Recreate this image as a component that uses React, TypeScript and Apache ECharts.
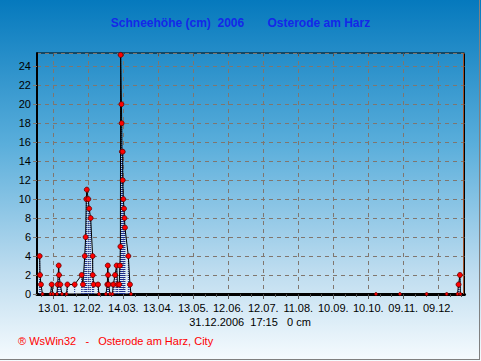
import React, { useEffect, useRef } from 'react';
import * as echarts from 'echarts';

const chartTitle = 'Schneehöhe (cm)  2006       Osterode am Harz';
const statusLine = '31.12.2006  17:15   0 cm';
const footerText = '® WsWin32   -   Osterode am Harz, City';

// x positions in "day units" of the axis (axis runs 0 .. 366.5)
const tickPositions = [14, 44, 74, 104, 134, 164, 194, 224, 254, 284, 314, 344];
const tickLabels = ['13.01.', '12.02.', '14.03.', '13.04.', '13.05.', '12.06.', '12.07.', '11.08.', '10.09.', '10.10.', '09.11.', '09.12.'];
const minorTickPositions = [4, 14, 24, 34, 44, 54, 64, 74, 84, 94, 104, 114, 124, 134, 144, 154, 164, 174, 184, 194, 204, 214, 224, 234, 244, 254, 264, 274, 284, 294, 304, 314, 324, 334, 344, 354, 364];
const nowMarker = 365;

const snowX = [
  2.3, 2.6, 3.4, 4.7,
  11.6, 12.6, 13.7,
  17.1, 17.7, 18.6, 18.9, 20.0, 21.4,
  25.3, 26.1, 32.3, 38.3, 39.4,
  40.9, 41.7, 42.3, 42.7, 44.0, 44.7, 46.0, 47.7, 47.8, 48.6,
  52.3, 53.1,
  59.1, 60.3, 60.7, 60.9, 61.4, 62.6,
  64.7, 65.4, 66.9, 68.3, 69.0, 70.5, 71.1, 71.5,
  71.7, 72.4, 72.6, 72.8, 73.5, 73.5, 74.0, 74.6, 75.0, 75.4, 78.3, 79.7, 80.6,
  290.6, 311.1, 334.0, 351.2,
  360.5, 361.4, 362.6, 363.0,
];
const snowCm = [
  4, 2, 1, 0,
  0, 1, 0,
  0, 1, 3, 2, 1, 0,
  0, 1, 1, 2, 1,
  4, 6, 10, 11, 10, 9, 8, 4, 2, 1,
  1, 0,
  0, 1, 3, 2, 1, 0,
  0, 1, 2, 3, 1, 1, 3, 5,
  25.2, 20, 18, 15, 15, 12, 10, 9, 8, 7, 4, 1, 0,
  0, 0, 0, 0,
  0, 1, 2, 0,
];

const yMax = 25.4;

export default function App() {
  const ref = useRef<HTMLDivElement>(null);
  useEffect(() => {
    document.body.style.margin = '0';
    if (!ref.current) return;
    const chart = echarts.init(ref.current, undefined, { renderer: 'svg' });
    const pairs = snowX.map((x, i) => [x, snowCm[i]]);
    const font = 'Arial, "Liberation Sans", sans-serif';
    const grid = '#80766e';
    chart.setOption({
      animation: false,
      backgroundColor: {
        type: 'linear', x: 0, y: 0, x2: 0, y2: 1,
        colorStops: [
          { offset: 0, color: '#0579bd' },
          { offset: 0.4, color: '#5aaedb' },
          { offset: 0.75, color: '#bddcef' },
          { offset: 1, color: '#f6fbfe' },
        ],
      },
      grid: { left: 37, right: 16.5, top: 53, bottom: 67, show: true, borderColor: '#000', borderWidth: 1 },
      xAxis: [
        {
          type: 'value', min: 0, max: 366.5,
          axisLine: { show: true, lineStyle: { color: '#000', width: 3 } },
          axisTick: { show: true, customValues: tickPositions, length: 5, lineStyle: { color: '#555' } },
          axisLabel: {
            customValues: tickPositions,
            formatter: (v: number) => tickLabels[tickPositions.indexOf(Math.round(v))] ?? '',
            color: '#000', fontSize: 11, fontFamily: font, margin: 8,
          },
          splitLine: { show: true, lineStyle: { color: grid, type: [4, 4], width: 1 } },
        },
        {
          type: 'value', min: 0, max: 366.5, position: 'bottom',
          axisLine: { show: false },
          axisTick: { show: true, customValues: minorTickPositions, length: 3, lineStyle: { color: '#555' } },
          axisLabel: { show: false },
          splitLine: { show: false },
        },
        {
          type: 'value', min: 0, max: 366.5, position: 'top',
          axisLine: { show: false },
          axisTick: { show: true, inside: true, customValues: tickPositions, length: 3, lineStyle: { color: '#555' } },
          axisLabel: { show: false },
          splitLine: { show: false },
        },
      ],
      yAxis: {
        type: 'value', min: 0, max: yMax, interval: 2,
        axisLine: { show: true, lineStyle: { color: '#000', width: 2 } },
        axisTick: { show: true, length: 4, lineStyle: { color: grid } },
        axisLabel: { color: '#000', fontSize: 11, fontFamily: font, margin: 6, showMaxLabel: false },
        splitLine: { show: true, lineStyle: { color: grid, type: [4, 4], width: 1 } },
      },
      graphic: [
        {
          type: 'text', left: 'center', top: 17,
          style: { text: chartTitle, fill: '#1428e8', font: `bold 12px ${font}` },
        },
        {
          type: 'text', x: 250, y: 322,
          style: { text: statusLine, fill: '#000', font: `11px ${font}`, align: 'center', verticalAlign: 'middle' },
        },
        {
          type: 'text', x: 18, y: 341,
          style: { text: footerText, fill: '#ff0000', font: `11px ${font}`, align: 'left', verticalAlign: 'middle' },
        },
        {
          type: 'line', shape: { x1: 0, y1: 359.5, x2: 480, y2: 359.5 },
          style: { stroke: '#808080', lineWidth: 1 },
        },
        {
          type: 'line', shape: { x1: 479.5, y1: 0, x2: 479.5, y2: 360 },
          style: { stroke: '#808080', lineWidth: 1 },
        },
      ],
      series: [
        {
          type: 'line', data: pairs, z: 1, symbol: 'none',
          lineStyle: { width: 0 },
          areaStyle: { color: 'rgba(255,255,255,0.6)' },
          markLine: {
            silent: true, symbol: 'none', label: { show: false },
            lineStyle: { color: '#a0522d', type: 'solid', width: 1 },
            data: [{ xAxis: nowMarker }],
          },
        },
        {
          type: 'custom', data: pairs, z: 2,
          encode: { x: 0, y: 1 },
          renderItem: (params: any, api: any) => {
            const x = api.value(0);
            const v = api.value(1);
            const p0 = api.coord([x, 0]);
            const p1 = api.coord([x, v]);
            return {
              type: 'line',
              shape: { x1: p0[0], y1: p0[1], x2: p1[0], y2: p1[1] },
              style: { stroke: '#1a2a8a', lineWidth: 1, lineDash: [1, 1] },
            };
          },
        },
        {
          type: 'line', data: pairs, z: 3,
          symbol: 'circle', showAllSymbol: true,
          symbolSize: (val: number[]) => (val[1] === 0 ? 3 : 5),
          itemStyle: { color: '#ff0000', borderColor: '#600000', borderWidth: 0.8 },
          lineStyle: { color: '#000', width: 1 },
        },
      ],
    });
    return () => chart.dispose();
  }, []);
  return <div ref={ref} style={{ width: 481, height: 361 }} />;
}
